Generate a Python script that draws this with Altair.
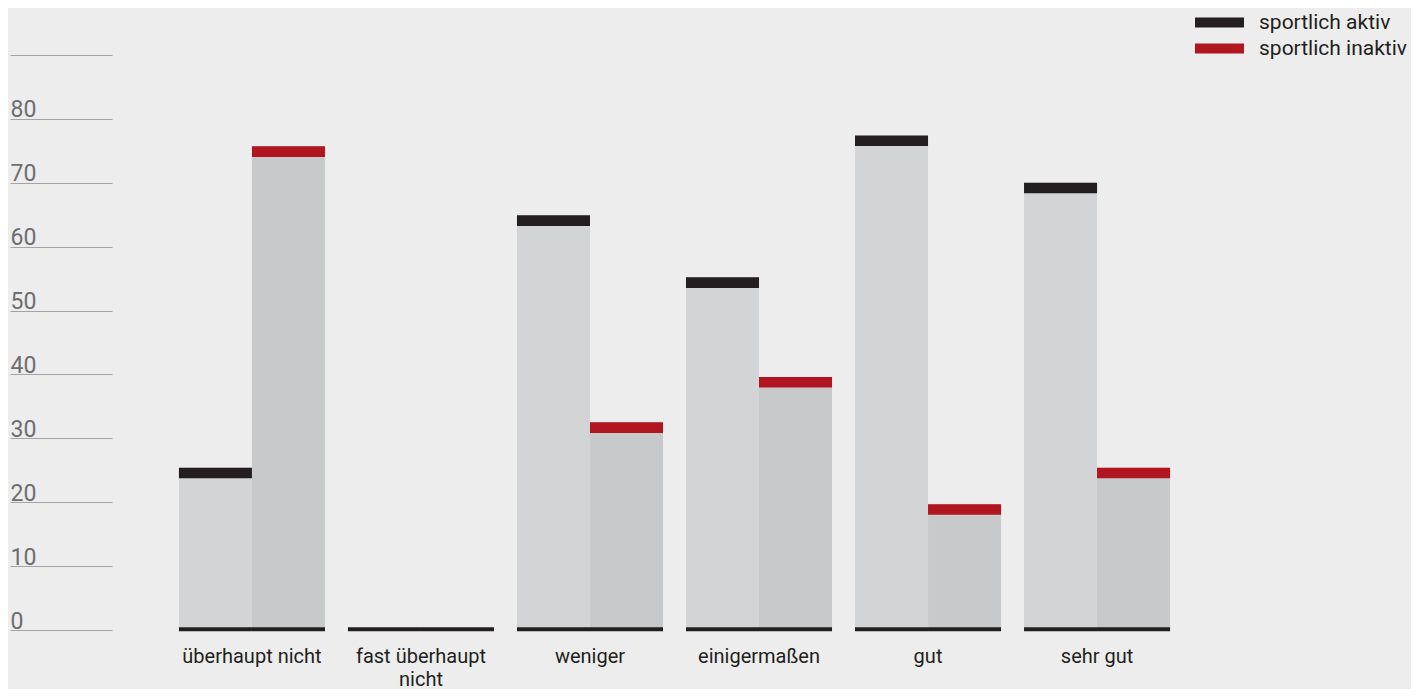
import altair as alt
import pandas as pd

categories = ["überhaupt nicht", "fast überhaupt nicht", "weniger", "einigermaßen", "gut", "sehr gut"]
series = ["sportlich aktiv", "sportlich inaktiv"]
aktiv = [25.4, 0, 64.9, 55.2, 77.4, 70.0]
inaktiv = [75.7, 0, 32.5, 39.6, 19.7, 25.4]
y_ticks = [0, 10, 20, 30, 40, 50, 60, 70, 80, 90]

rows = []
for c, a, i in zip(categories, aktiv, inaktiv):
    rows.append({"kategorie": c, "gruppe": series[0], "wert": a})
    rows.append({"kategorie": c, "gruppe": series[1], "wert": i})
df = pd.DataFrame(rows)

FONT = "Roboto"

x_enc = alt.X(
    "kategorie:N",
    sort=categories,
    scale=alt.Scale(paddingInner=0.136, paddingOuter=0.396),
    axis=alt.Axis(
        title=None, domain=False, ticks=False, labelAngle=0,
        labelFontSize=20, labelColor="#231f20", labelPadding=16, labelFont=FONT,
        labelExpr="datum.label == 'fast überhaupt nicht' ? ['fast überhaupt', 'nicht'] : datum.label",
        labelLineHeight=23,
    ),
)
xo_enc = alt.XOffset("gruppe:N", sort=series, scale=alt.Scale(paddingInner=0, paddingOuter=0))
y_enc = alt.Y(
    "wert:Q",
    scale=alt.Scale(domain=[0, 90], nice=False),
    axis=alt.Axis(
        title=None, domain=False, grid=False, values=y_ticks,
        tickSize=102, tickColor="#a3a3a3", tickWidth=1,
        labelAlign="left", labelPadding=0, labelBaseline="alphabetic", labelOffset=-2,
        labelFontSize=23, labelColor="#6d6e70", labelFont=FONT,
        labelExpr="datum.value == 90 ? '' : datum.label",
    ),
)

base = alt.Chart(df)

bars = base.mark_bar().encode(
    x=x_enc,
    xOffset=xo_enc,
    y=y_enc,
    fill=alt.condition("datum.gruppe == 'sportlich aktiv'", alt.value("#d3d4d6"), alt.value("#c8c9cb")),
)

caps = base.transform_filter("datum.wert > 0").transform_calculate(
    unten="datum.wert - 1.65"
).mark_bar().encode(
    x=x_enc,
    xOffset=xo_enc,
    y=y_enc,
    y2="unten:Q",
    color=alt.Color(
        "gruppe:N",
        sort=series,
        scale=alt.Scale(domain=series, range=["#231f20", "#b1151f"]),
        legend=alt.Legend(
            title=None, orient="none", legendX=1095, legendY=-45,
            symbolType="M-2,-0.408H2V0.408H-2Z", symbolSize=600,
            symbolStrokeWidth=0, symbolOpacity=1,
            labelFontSize=21, labelColor="#231f20", labelFont=FONT,
            labelOffset=27, padding=0, rowPadding=3,
        ),
    ),
)

baseline = base.mark_bar(color="#231f20").encode(
    x=x_enc,
    xOffset=xo_enc,
    y=alt.datum(-0.2),
    y2=alt.datum(0.45),
)

chart = alt.layer(bars, caps, baseline).properties(
    width=1125,
    height=575,
    background="#ededed",
    autosize=alt.AutoSizeParams(type="none"),
    padding={"left": 104, "top": 47, "right": 174, "bottom": 59},
).configure_view(stroke=None)

chart.save("out.html", embed_options={"renderer": "svg", "actions": False})
